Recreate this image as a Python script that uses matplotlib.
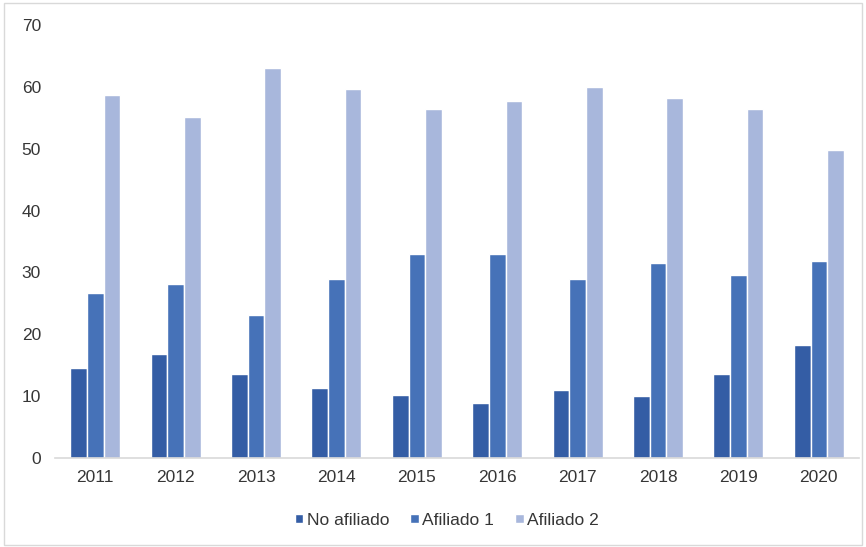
import matplotlib
matplotlib.use("Agg")
import matplotlib.pyplot as plt
import numpy as np
from matplotlib.patches import Rectangle

plt.rcParams["font.family"] = ["Liberation Sans", "DejaVu Sans"]

years = ["2011", "2012", "2013", "2014", "2015", "2016", "2017", "2018", "2019", "2020"]
series_names = ["No afiliado", "Afiliado 1", "Afiliado 2"]
no_afiliado = [14.5, 16.7, 13.5, 11.2, 10.2, 8.9, 10.9, 10.0, 13.6, 18.2]
afiliado_1 = [26.6, 28.1, 23.1, 29.0, 33.0, 33.0, 28.9, 31.5, 29.6, 31.8]
afiliado_2 = [58.7, 55.1, 63.1, 59.7, 56.5, 57.7, 60.0, 58.2, 56.5, 49.8]
y_ticks = [0, 10, 20, 30, 40, 50, 60, 70]

colors = ["#345DA5", "#4672B8", "#A8B7DC"]
text_color = "#363636"

fig = plt.figure(figsize=(8.66, 5.47), dpi=100)
ax = fig.add_axes([0.0635, 0.1636, 0.9285, 0.7898])

x = np.arange(len(years))
width = 0.207
for i, (vals, name, c) in enumerate(zip([no_afiliado, afiliado_1, afiliado_2], series_names, colors)):
    ax.bar(x + (i - 1) * width, vals, width=width, color=c, edgecolor="white",
           linewidth=1.0, label=name, zorder=2)

ax.set_xlim(-0.5, len(years) - 0.5)
ax.set_ylim(0, 70)
ax.set_yticks(y_ticks)
ax.set_xticks(x)
ax.set_xticklabels(years)
ax.tick_params(axis="both", length=0, labelsize=12.5, colors=text_color)
ax.tick_params(axis="x", pad=9)
ax.tick_params(axis="y", pad=10)

for side in ["top", "right", "left"]:
    ax.spines[side].set_visible(False)
ax.spines["bottom"].set_color("#D9D9D9")
ax.spines["bottom"].set_linewidth(1.2)

leg = fig.legend(loc="center", bbox_to_anchor=(0.516, 0.049), ncol=3, frameon=False,
                 fontsize=12.5, handlelength=0.5, handleheight=0.5, handletextpad=0.2,
                 columnspacing=1.2)
for t in leg.get_texts():
    t.set_color(text_color)

fig.patches.append(Rectangle((0.005, 0.004), 0.99, 0.99, transform=fig.transFigure,
                             fill=False, edgecolor="#D9D9D9", linewidth=1.0))

fig.savefig("out.png", dpi=100)
